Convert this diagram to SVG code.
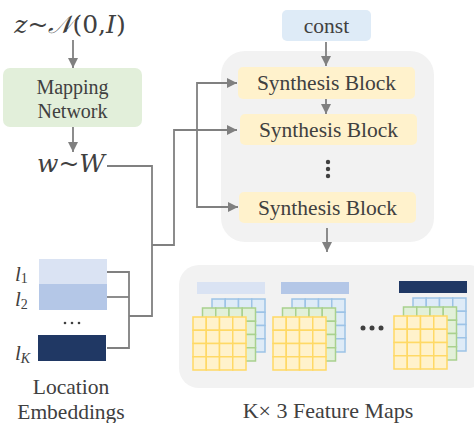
<svg xmlns="http://www.w3.org/2000/svg" width="474" height="423" viewBox="0 0 474 423">
<style>
.t{font-family:"Liberation Serif","Times New Roman",serif;fill:#404040;}
.m{font-family:"DejaVu Serif","Liberation Serif",serif;fill:#404040;}
.l{font-family:"Liberation Serif","Times New Roman",serif;fill:#404040;font-style:italic;}
.i{font-style:italic;}
.ln{fill:none;stroke:#808080;stroke-width:1.8;}
.gB{fill:#deebf7;stroke:#9dc3e6;stroke-width:1.5;}
.gG{fill:#e2f0d9;stroke:#a9d18e;stroke-width:1.5;}
.gY{fill:#fff2cc;stroke:#ffd966;stroke-width:1.5;}
</style>
<defs>
<marker id="ah" viewBox="0 0 10 10" refX="10" refY="5" markerWidth="10" markerHeight="10" markerUnits="userSpaceOnUse" orient="auto">
<path d="M0,0 L10,5 L0,10 z" fill="#808080"/>
</marker>
<g id="cells">
<rect x="0" y="0" width="13.25" height="13.25"/><rect x="13.25" y="0" width="13.25" height="13.25"/><rect x="26.5" y="0" width="13.25" height="13.25"/><rect x="39.75" y="0" width="13.25" height="13.25"/>
<rect x="0" y="13.25" width="13.25" height="13.25"/><rect x="13.25" y="13.25" width="13.25" height="13.25"/><rect x="26.5" y="13.25" width="13.25" height="13.25"/><rect x="39.75" y="13.25" width="13.25" height="13.25"/>
<rect x="0" y="26.5" width="13.25" height="13.25"/><rect x="13.25" y="26.5" width="13.25" height="13.25"/><rect x="26.5" y="26.5" width="13.25" height="13.25"/><rect x="39.75" y="26.5" width="13.25" height="13.25"/>
<rect x="0" y="39.75" width="13.25" height="13.25"/><rect x="13.25" y="39.75" width="13.25" height="13.25"/><rect x="26.5" y="39.75" width="13.25" height="13.25"/><rect x="39.75" y="39.75" width="13.25" height="13.25"/>
</g>
<g id="stack">
<g class="gB" transform="translate(19,0)"><use href="#cells"/></g>
<g class="gG" transform="translate(9.5,9)"><use href="#cells"/></g>
<g class="gY" transform="translate(0,18)"><use href="#cells"/></g>
</g>
</defs>

<g id="synthesis-container"><rect x="221" y="51" width="213" height="191" rx="24" fill="#f2f2f2"/></g>
<g id="feature-container"><rect x="179" y="265" width="310" height="123" rx="20" fill="#f2f2f2"/></g>

<g id="connectors">
<line class="ln" x1="73" y1="40" x2="73" y2="68" marker-end="url(#ah)"/>
<line class="ln" x1="73" y1="127" x2="73" y2="152" marker-end="url(#ah)"/>
<polyline class="ln" points="107,166 152,166 152,316 129,316"/>
<polyline class="ln" points="107,272 129,272 129,348 107,348"/>
<line class="ln" x1="107" y1="297" x2="129" y2="297"/>
<polyline class="ln" points="152,245 174,245 174,130 237,130" marker-end="url(#ah)"/>
<polyline class="ln" points="237,83 197,83 197,207 237,207" />
<line class="ln" x1="205" y1="83" x2="237" y2="83" marker-end="url(#ah)"/>
<line class="ln" x1="205" y1="207" x2="238" y2="207" marker-end="url(#ah)"/>
<line class="ln" x1="326" y1="42" x2="326" y2="66" marker-end="url(#ah)"/>
<line class="ln" x1="326" y1="99" x2="326" y2="114" marker-end="url(#ah)"/>
<line class="ln" x1="327" y1="228" x2="327" y2="252" marker-end="url(#ah)"/>
</g>

<g id="z-label"><text class="m" x="70" y="33" font-size="25" text-anchor="middle"><tspan class="i">z</tspan>~<tspan class="i">𝒩</tspan>(0,<tspan class="i">I</tspan>)</text></g>

<g id="mapping-network">
<rect x="3" y="68" width="139" height="59" rx="7" fill="#e2efda"/>
<text class="t" x="72.5" y="94" font-size="20" text-anchor="middle">Mapping</text>
<text class="t" x="72.5" y="118" font-size="20" text-anchor="middle">Network</text>
</g>

<g id="w-label"><text class="m" x="71" y="172" font-size="25" text-anchor="middle"><tspan class="i">w</tspan>~<tspan class="i">W</tspan></text></g>

<g id="location-embeddings">
<rect x="39" y="259" width="68" height="25" fill="#dae3f3"/>
<rect x="39" y="284" width="68" height="26" fill="#b4c7e7"/>
<rect x="38" y="335" width="68" height="26" fill="#203864"/>
<circle cx="65" cy="323" r="1.3" fill="#404040"/><circle cx="72" cy="323" r="1.3" fill="#404040"/><circle cx="79" cy="323" r="1.3" fill="#404040"/>
<text class="l" x="15" y="281" font-size="21">l<tspan font-size="14" font-style="normal" dy="2">1</tspan></text>
<text class="l" x="15" y="306" font-size="21">l<tspan font-size="14" font-style="normal" dy="3">2</tspan></text>
<text class="l" x="15" y="360" font-size="21">l<tspan font-size="14" dy="3">K</tspan></text>
<text class="t" x="71" y="394" font-size="21.5" text-anchor="middle">Location</text>
<text class="t" x="71" y="419" font-size="21.5" text-anchor="middle">Embeddings</text>
</g>

<g id="const">
<rect x="282" y="10" width="89" height="31" rx="5" fill="#deebf7"/>
<text class="t" x="326.5" y="33" font-size="21.5" text-anchor="middle">const</text>
</g>

<g id="synthesis-block-1">
<rect x="238" y="67" width="177" height="32" rx="5" fill="#fff2cc"/>
<text class="t" x="326.5" y="90" font-size="21.5" text-anchor="middle">Synthesis Block</text>
</g>
<g id="synthesis-block-2">
<rect x="240" y="114" width="177" height="31" rx="5" fill="#fff2cc"/>
<text class="t" x="328.5" y="137" font-size="21.5" text-anchor="middle">Synthesis Block</text>
</g>
<g id="vdots"><circle cx="328" cy="162" r="2.2" fill="#404040"/><circle cx="328" cy="169" r="2.2" fill="#404040"/><circle cx="328" cy="176" r="2.2" fill="#404040"/></g>
<g id="synthesis-block-3">
<rect x="239" y="192" width="177" height="31" rx="5" fill="#fff2cc"/>
<text class="t" x="327.5" y="215" font-size="21.5" text-anchor="middle">Synthesis Block</text>
</g>

<g id="feature-map-1">
<rect x="197" y="282" width="68" height="12" fill="#dae3f3"/>
<use href="#stack" x="193" y="299"/>
</g>
<g id="feature-map-2">
<rect x="281" y="282" width="68" height="12" fill="#b4c7e7"/>
<use href="#stack" x="273" y="299"/>
</g>
<g id="hdots"><circle cx="363" cy="328" r="2.5" fill="#404040"/><circle cx="372" cy="328" r="2.5" fill="#404040"/><circle cx="381" cy="328" r="2.5" fill="#404040"/></g>
<g id="feature-map-3">
<rect x="399" y="281" width="68" height="12" fill="#203864"/>
<use href="#stack" x="394" y="298"/>
</g>
<g id="feature-label"><text class="t" x="328" y="418" font-size="22" text-anchor="middle">K× 3 Feature Maps</text></g>
</svg>
